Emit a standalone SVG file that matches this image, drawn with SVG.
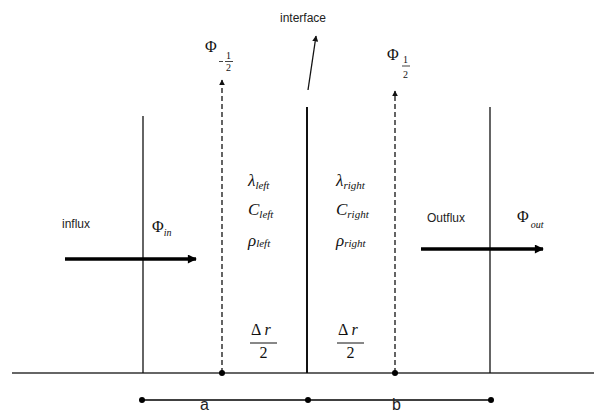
<svg xmlns="http://www.w3.org/2000/svg" width="594" height="412" viewBox="0 0 594 412">
<defs>
<style>
.ln{stroke:#111;stroke-width:1.3;fill:none}
.dash{stroke:#111;stroke-width:1.3;stroke-dasharray:5,3;fill:none}
.base{stroke:#666;stroke-width:2;fill:none}
.thick{stroke:#000;stroke-width:3.5;fill:none}
.s{font-family:"Liberation Sans",Arial,sans-serif;fill:#222}
.m{font-family:"Liberation Serif","Times New Roman",serif;fill:#111}
.i{font-style:italic}
</style>
<marker id="ah" viewBox="0 0 10 10" refX="9" refY="5" markerWidth="6" markerHeight="6" orient="auto" markerUnits="userSpaceOnUse"><path d="M0,0L10,5L0,10z" fill="#111"/></marker>
<marker id="ahb" viewBox="0 0 10 10" refX="9" refY="5" markerWidth="10" markerHeight="9" orient="auto" markerUnits="userSpaceOnUse"><path d="M0,0L10,5L0,10z" fill="#000"/></marker>
</defs>
<rect width="594" height="412" fill="#fff"/>
<g id="connectors">
<line class="base" x1="12" y1="373" x2="594" y2="373"/>
<line id="left-wall" class="ln" x1="143" y1="116" x2="143" y2="373"/>
<line id="right-wall" class="ln" x1="490" y1="107" x2="490" y2="373"/>
<line id="interface-line" x1="307" y1="107" x2="307" y2="373" stroke="#111" stroke-width="2"/>
<line class="dash" x1="222" y1="373" x2="222" y2="80" marker-end="url(#ah)"/>
<line class="dash" x1="395" y1="373" x2="395" y2="91" marker-end="url(#ah)"/>
<line class="ln" x1="308" y1="90" x2="316" y2="36" marker-end="url(#ah)"/>
<line class="thick" x1="65" y1="259" x2="196" y2="259" marker-end="url(#ahb)"/>
<line class="thick" x1="421" y1="249" x2="543" y2="249" marker-end="url(#ahb)"/>
<circle cx="222" cy="373" r="3" fill="#000"/>
<circle cx="395" cy="373" r="3" fill="#000"/>
<line x1="142" y1="400" x2="491" y2="400" stroke="#000" stroke-width="1.3"/>
<circle cx="142" cy="400" r="3" fill="#000"/>
<circle cx="308" cy="400" r="3" fill="#000"/>
<circle cx="491" cy="400" r="3" fill="#000"/>
</g>
<g id="interface-label"><text class="s" x="303" y="22" font-size="12" text-anchor="middle">interface</text></g>
<g id="phi-minus-half">
<text class="m" x="205" y="52" font-size="16">Φ</text>
<line x1="219" y1="61.5" x2="223" y2="61.5" stroke="#111" stroke-width="0.8"/>
<text class="m" x="226" y="59" font-size="10">1</text>
<line x1="225" y1="61.5" x2="233" y2="61.5" stroke="#111" stroke-width="0.8"/>
<text class="m" x="226" y="71" font-size="10">2</text>
</g>
<g id="phi-half">
<text class="m" x="387" y="60" font-size="16">Φ</text>
<text class="m" x="403" y="63" font-size="10">1</text>
<line x1="402" y1="66" x2="410" y2="66" stroke="#111" stroke-width="0.8"/>
<text class="m" x="403" y="78" font-size="10">2</text>
</g>
<g id="left-props">
<text class="m i" x="248" y="186" font-size="17">λ<tspan font-size="11" dy="3">left</tspan></text>
<text class="m i" x="248" y="215" font-size="17">C<tspan font-size="11" dy="3">left</tspan></text>
<text class="m i" x="248" y="246" font-size="17">ρ<tspan font-size="11" dy="1">left</tspan></text>
</g>
<g id="right-props">
<text class="m i" x="336" y="186" font-size="17">λ<tspan font-size="11" dy="3">right</tspan></text>
<text class="m i" x="336" y="215" font-size="17">C<tspan font-size="11" dy="3">right</tspan></text>
<text class="m i" x="336" y="246" font-size="17">ρ<tspan font-size="11" dy="1">right</tspan></text>
</g>
<g id="dr-left">
<text class="m" x="251" y="335" font-size="16">Δ <tspan class="i">r</tspan></text>
<line x1="250" y1="343" x2="277" y2="343" stroke="#111" stroke-width="1"/>
<text class="m" x="263.5" y="358" font-size="16" text-anchor="middle">2</text>
</g>
<g id="dr-right">
<text class="m" x="338" y="335" font-size="16">Δ <tspan class="i">r</tspan></text>
<line x1="337" y1="343" x2="364" y2="343" stroke="#111" stroke-width="1"/>
<text class="m" x="350.5" y="358" font-size="16" text-anchor="middle">2</text>
</g>
<g id="influx">
<text class="s" x="62" y="228" font-size="12">influx</text>
<text class="m" x="152" y="232" font-size="16">Φ<tspan class="i" font-size="10" dy="4">in</tspan></text>
</g>
<g id="outflux">
<text class="s" x="427" y="222" font-size="12">Outflux</text>
<text class="m" x="517" y="222" font-size="16">Φ<tspan class="i" font-size="10" dy="6" dx="2">out</tspan></text>
</g>
<g id="labels-ab">
<text class="s" x="200" y="410" font-size="16">a</text>
<text class="s" x="392" y="410" font-size="16">b</text>
</g>
</svg>
